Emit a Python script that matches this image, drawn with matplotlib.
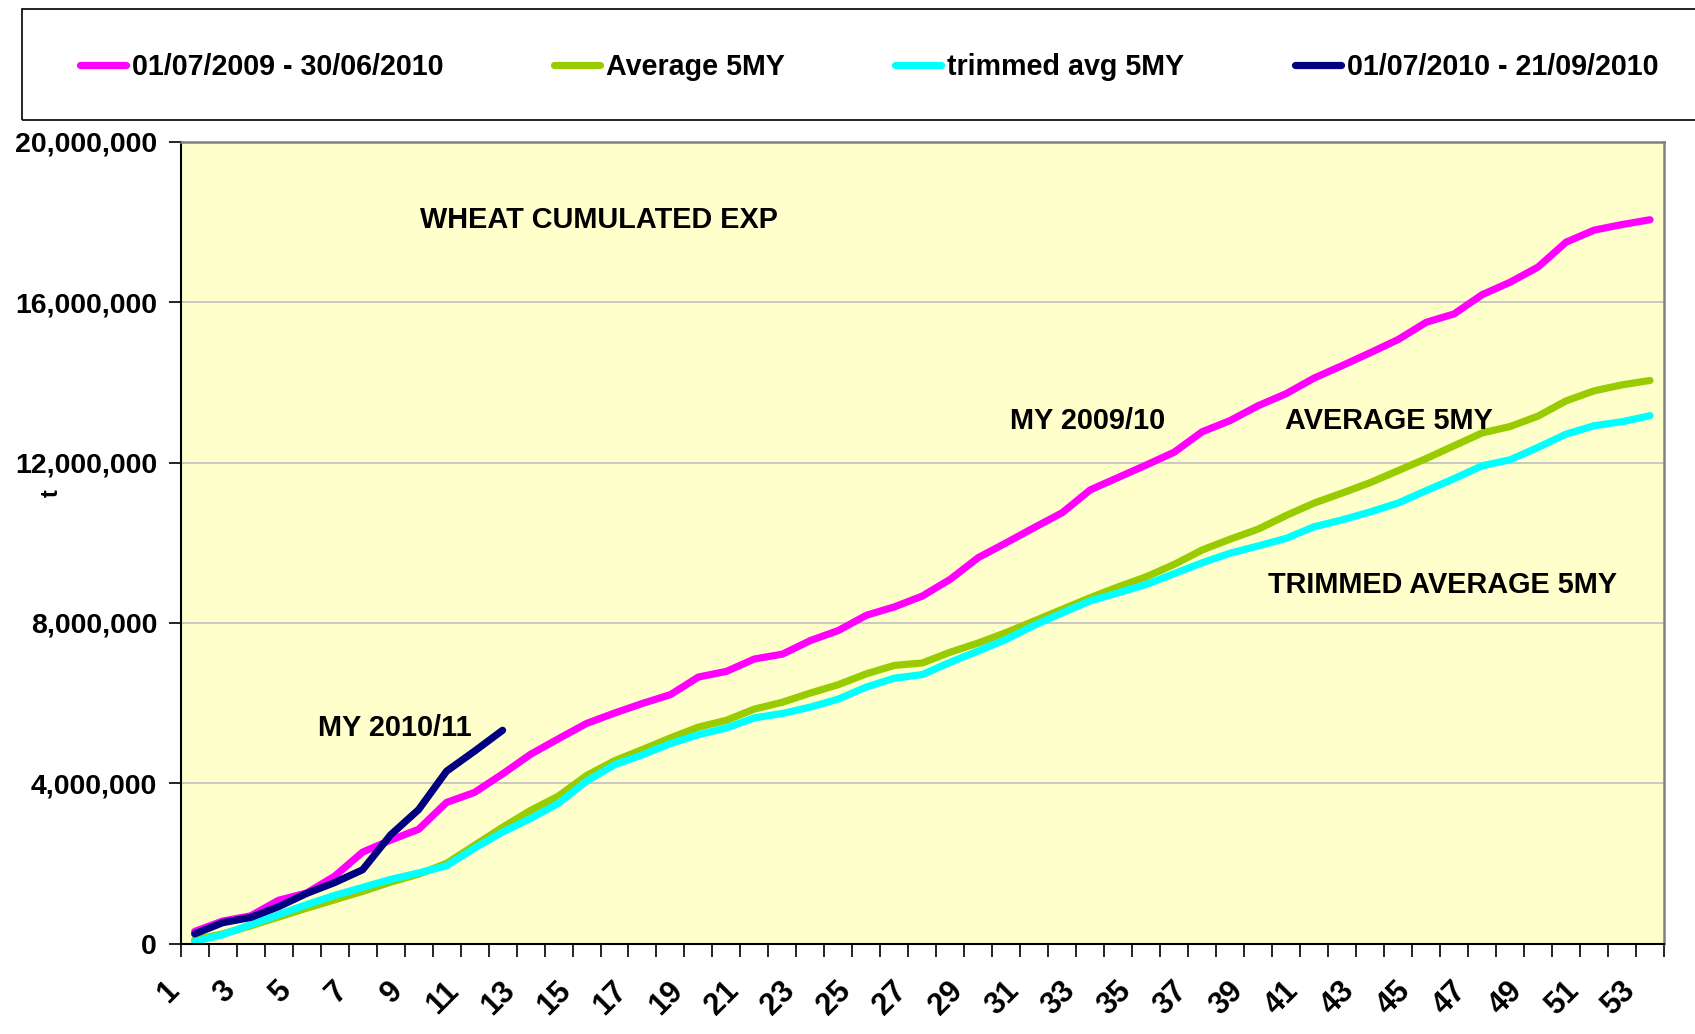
import numpy as np
import matplotlib
matplotlib.use("Agg")
import matplotlib.pyplot as plt
import matplotlib.transforms as mtransforms
from matplotlib.ticker import FuncFormatter, FixedLocator
from matplotlib.patches import Rectangle

plt.rcParams['font.family'] = ['Liberation Sans', 'DejaVu Sans']
plt.rcParams['font.weight'] = 'bold'

# weekly cumulated wheat exports, million tonnes
weeks = np.arange(1, 54)

my_2009_10 = [0.30, 0.56, 0.69, 1.08, 1.26, 1.68, 2.28, 2.58, 2.85, 3.52,
              3.77, 4.23, 4.72, 5.11, 5.49, 5.75, 5.99, 6.21, 6.65, 6.79,
              7.10, 7.22, 7.56, 7.81, 8.19, 8.40, 8.67, 9.09, 9.63, 10.00,
              10.38, 10.75, 11.32, 11.63, 11.94, 12.26, 12.77, 13.05, 13.42, 13.72,
              14.11, 14.42, 14.74, 15.07, 15.50, 15.71, 16.19, 16.50, 16.88, 17.50,
              17.80, 17.94, 18.06]

avg_5my = [0.09, 0.24, 0.44, 0.66, 0.88, 1.09, 1.30, 1.53, 1.73, 2.00,
           2.45, 2.90, 3.32, 3.68, 4.19, 4.56, 4.84, 5.13, 5.40, 5.57,
           5.85, 6.02, 6.25, 6.46, 6.73, 6.94, 7.00, 7.27, 7.50, 7.76,
           8.05, 8.34, 8.63, 8.90, 9.15, 9.46, 9.82, 10.09, 10.34, 10.68,
           10.99, 11.24, 11.50, 11.80, 12.10, 12.42, 12.74, 12.90, 13.16, 13.54,
           13.79, 13.94, 14.05]

trimmed_5my = [0.05, 0.22, 0.47, 0.72, 0.97, 1.20, 1.40, 1.60, 1.76, 1.94,
               2.38, 2.78, 3.12, 3.50, 4.05, 4.46, 4.71, 4.99, 5.21, 5.38,
               5.63, 5.74, 5.90, 6.10, 6.40, 6.62, 6.71, 7.02, 7.30, 7.59,
               7.94, 8.25, 8.55, 8.75, 8.96, 9.23, 9.50, 9.74, 9.92, 10.11,
               10.40, 10.57, 10.77, 10.99, 11.30, 11.60, 11.92, 12.07, 12.38, 12.71,
               12.92, 13.02, 13.17]

my_2010_11 = [0.24, 0.52, 0.65, 0.92, 1.25, 1.52, 1.84, 2.71, 3.34, 4.30,
              4.80, 5.32]

labels = ["01/07/2009 - 30/06/2010", "Average 5MY", "trimmed avg 5MY",
          "01/07/2010 - 21/09/2010"]
colors = ["#FF00FF", "#99CC00", "#00FFFF", "#000080"]

W, H = 1695, 1034
fig = plt.figure(figsize=(W / 100, H / 100), dpi=100)
ax = fig.add_axes([180.7 / W, 1 - 943.5 / H, (1664 - 180.7) / W, (943.5 - 142) / H])
ax.set_facecolor("#FFFFCC")

series = [my_2009_10, avg_5my, trimmed_5my, my_2010_11]
handles = []
for vals, col, lab in zip(series, colors, labels):
    x = weeks[:len(vals)]
    ln, = ax.plot(x, np.array(vals) * 1e6, color=col, lw=5.2, label=lab,
                  solid_capstyle='round', solid_joinstyle='round')
    handles.append(ln)

ax.set_xlim(0.5, 53.5)
ax.set_ylim(0, 20e6)
ax.set_yticks(np.arange(0, 20e6 + 1, 4e6))
ax.yaxis.set_major_formatter(FuncFormatter(lambda v, p: f"{v:,.0f}"))
ax.grid(axis='y', color='#C0C0C0', lw=1.2)
ax.set_axisbelow(True)

ax.set_xticks(weeks[::2])
ax.set_xticklabels([str(w) for w in weeks[::2]])
ax.xaxis.set_minor_locator(FixedLocator(np.arange(0.5, 54, 1)))
ax.tick_params(axis='x', which='major', length=0, pad=31, labelsize=22)
ax.tick_params(axis='x', which='minor', length=9, width=1.2, direction='out')
ax.tick_params(axis='y', length=9, width=1.2, direction='out', pad=8, labelsize=20.5)

off = mtransforms.ScaledTranslation(-20 / 100, 0, fig.dpi_scale_trans)
for lbl in ax.get_xticklabels():
    lbl.set_rotation(45)
    lbl.set_ha('right')
    lbl.set_va('center')
    lbl.set_rotation_mode('anchor')
    lbl.set_transform(lbl.get_transform() + off)
    lbl.set_fontweight('bold')
for lbl in ax.get_yticklabels():
    lbl.set_fontweight('bold')

for side in ['left', 'bottom']:
    ax.spines[side].set_color('black')
    ax.spines[side].set_linewidth(1.5)
for side in ['top', 'right']:
    ax.spines[side].set_color('#808080')
    ax.spines[side].set_linewidth(1.8)

def ftext(px, py, s, **kw):
    fig.text(px / W, 1 - py / H, s, fontsize=20.8, fontweight='bold',
             va='center', ha='left', **kw)

ftext(420, 220, "WHEAT CUMULATED EXP")
ftext(1010, 421, "MY 2009/10")
ftext(1285, 421, "AVERAGE 5MY")
ftext(1268, 585, "TRIMMED AVERAGE 5MY")
ftext(318, 728, "MY 2010/11")
fig.text(51 / W, 1 - 493 / H, "t", fontsize=17, fontweight='bold',
         rotation=90, ha='center', va='center')

# legend box across the top
fig.patches.append(Rectangle((22 / W, 1 - 120 / H), (W - 10) / W, 111 / H,
                             transform=fig.transFigure, fill=False,
                             edgecolor='black', lw=1.2))
fig.legend(handles=handles, labels=labels, loc='center left',
           bbox_to_anchor=(80 / W, 1 - 67 / H), ncol=4, frameon=False,
           handlelength=1.6, handletextpad=0.2,
           columnspacing=3.88, borderpad=0, borderaxespad=0,
           prop={'weight': 'bold', 'size': 20.6})

fig.savefig("out.png", dpi=100)
